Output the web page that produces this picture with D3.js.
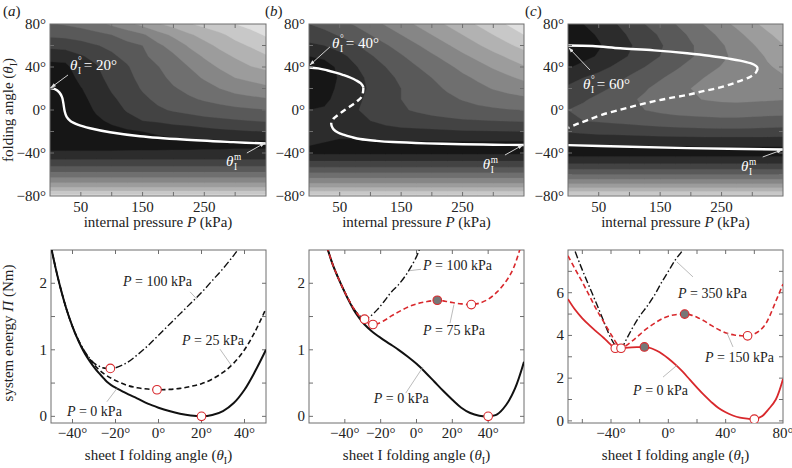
<!DOCTYPE html>
<html><head><meta charset="utf-8">
<script src="https://cdn.jsdelivr.net/npm/d3@7"></script>
<style>body{margin:0;background:#fff}svg{display:block}svg text{font-family:"Liberation Serif","Times New Roman",Times,serif}</style>
</head><body><svg id="chart" width="792" height="468" font-family="Liberation Serif, Times New Roman, serif"></svg>
<script>
// ---------------- DATA ----------------
const gridPressure = [0,25,50,75,100,125,150,175,200,225,250,275,300,325,350];
const gridAngle = [80,70,60,50,40,30,20,10,0,-10,-20,-30,-40,-50,-60,-70,-80];
const fieldA = [
 [3.9,4.1,4.3,4.6,5.2,5.7,6.3,6.9,7.4,7.9,8.3,8.7,9.0,9.3,9.6],
 [3.2,3.3,3.5,3.75,4.0,4.45,4.85,5.6,6.2,6.85,7.35,7.8,8.3,8.7,9.1],
 [2.3,2.4,2.6,2.95,3.2,3.7,4.0,4.8,5.4,6.1,6.7,7.2,7.7,8.1,8.5],
 [1.3,1.4,1.9,2.3,2.85,3.25,3.8,4.35,4.85,5.55,6.1,6.65,7.1,7.5,7.9],
 [0.7,0.75,1.6,1.9,2.6,2.9,3.55,3.95,4.55,5.0,5.6,6.1,6.55,6.95,7.2],
 [0.5,0.55,1.25,1.7,2.35,2.7,3.35,3.7,4.25,4.65,5.1,5.55,6.0,6.25,6.5],
 [0.35,0.4,0.95,1.5,2.1,2.5,3.1,3.45,3.9,4.25,4.6,5.0,5.35,5.55,5.75],
 [0.3,0.35,0.75,1.3,1.85,2.3,2.8,3.2,3.5,3.85,4.1,4.35,4.6,4.75,4.9],
 [0.3,0.3,0.6,1.1,1.5,2.1,2.4,2.85,3.1,3.3,3.45,3.6,3.75,3.85,3.95],
 [0.3,0.3,0.5,0.85,1.15,1.6,2.0,2.15,2.35,2.5,2.7,2.8,2.9,3.0,3.1],
 [0.4,0.4,0.5,0.6,0.75,0.85,1.0,1.15,1.35,1.45,1.6,1.75,1.85,1.95,2.0],
 [0.6,0.6,0.6,0.6,0.6,0.65,0.7,0.7,0.75,0.75,0.8,0.8,0.85,0.85,0.85],
 [1.1,1.1,1.1,1.1,1.1,1.1,1.1,1.1,1.1,1.1,1.1,1.1,1.1,1.1,1.1],
 [2.6,2.6,2.6,2.6,2.6,2.6,2.6,2.6,2.6,2.6,2.6,2.6,2.6,2.6,2.6],
 [4.4,4.4,4.4,4.4,4.4,4.4,4.4,4.4,4.4,4.4,4.4,4.4,4.4,4.4,4.4],
 [6.5,6.5,6.5,6.5,6.5,6.5,6.5,6.5,6.5,6.5,6.5,6.5,6.5,6.5,6.5],
 [9.3,9.3,9.3,9.3,9.3,9.3,9.3,9.3,9.3,9.3,9.3,9.3,9.3,9.3,9.3]
];
const fieldB = [
 [3.0,3.3,3.7,4.1,4.6,5.1,5.6,6.1,6.6,7.1,7.6,8.1,8.6,9.1,9.5],
 [2.5,2.7,3.1,3.5,4.0,4.5,5.0,5.5,6.0,6.5,7.0,7.5,8.0,8.5,9.0],
 [1.8,2.0,2.4,2.9,3.4,3.9,4.4,4.9,5.4,5.9,6.4,6.9,7.4,7.85,8.3],
 [1.0,1.2,1.7,2.3,2.9,3.4,3.9,4.4,4.85,5.3,5.8,6.25,6.7,7.15,7.6],
 [0.3,0.6,1.2,1.9,2.5,3.0,3.5,3.95,4.4,4.8,5.25,5.65,6.1,6.5,6.9],
 [0.2,0.5,1.1,1.7,2.2,2.7,3.2,3.6,4.0,4.4,4.8,5.15,5.5,5.85,6.2],
 [0.3,0.6,1.2,1.7,2.1,2.6,3.0,3.4,3.75,4.1,4.45,4.75,5.05,5.3,5.5],
 [0.6,0.8,1.3,1.8,2.2,2.6,3.0,3.3,3.55,3.8,4.05,4.3,4.5,4.65,4.8],
 [1.0,1.1,1.4,1.9,2.3,2.6,2.9,3.1,3.3,3.45,3.6,3.75,3.85,3.95,4.0],
 [1.3,1.3,1.4,1.7,2.0,2.3,2.5,2.6,2.7,2.8,2.9,2.95,3.0,3.05,3.1],
 [1.4,1.3,1.2,1.3,1.5,1.6,1.7,1.75,1.8,1.85,1.9,1.92,1.95,1.98,2.0],
 [1.1,1.0,0.9,0.85,0.85,0.9,0.9,0.9,0.9,0.9,0.9,0.9,0.9,0.9,0.9],
 [0.8,0.8,0.8,0.8,0.8,0.8,0.8,0.8,0.8,0.8,0.8,0.8,0.8,0.8,0.8],
 [2.4,2.4,2.4,2.4,2.4,2.4,2.4,2.4,2.4,2.4,2.4,2.4,2.4,2.4,2.4],
 [4.3,4.3,4.3,4.3,4.3,4.3,4.3,4.3,4.3,4.3,4.3,4.3,4.3,4.3,4.3],
 [6.4,6.4,6.4,6.4,6.4,6.4,6.4,6.4,6.4,6.4,6.4,6.4,6.4,6.4,6.4],
 [9.3,9.3,9.3,9.3,9.3,9.3,9.3,9.3,9.3,9.3,9.3,9.3,9.3,9.3,9.3]
];
const fieldC = [
 [0.7,1.0,1.4,1.9,2.4,3.0,3.5,4.0,4.6,5.1,5.7,6.2,6.8,7.3,7.8],
 [0.3,0.7,1.1,1.6,2.1,2.6,3.1,3.6,4.15,4.7,5.2,5.75,6.3,6.85,7.35],
 [0.1,0.5,0.9,1.4,1.9,2.4,2.9,3.4,3.9,4.4,4.9,5.4,5.9,6.45,6.95],
 [0.3,0.7,1.1,1.6,2.05,2.5,3.0,3.45,3.9,4.35,4.8,5.25,5.65,6.1,6.55],
 [0.9,1.3,1.7,2.1,2.6,3.0,3.4,3.85,4.3,4.7,5.05,5.35,5.65,5.9,6.2],
 [1.6,2.0,2.3,2.7,3.1,3.5,3.9,4.3,4.7,5.05,5.35,5.55,5.7,5.75,5.9],
 [2.2,2.5,2.8,3.1,3.5,3.9,4.3,4.65,5.0,5.2,5.4,5.5,5.55,5.5,5.5],
 [2.7,2.9,3.2,3.5,3.85,4.15,4.45,4.7,4.9,5.05,5.15,5.2,5.15,5.1,5.05],
 [3.0,3.2,3.4,3.6,3.8,4.0,4.2,4.35,4.45,4.5,4.55,4.55,4.5,4.45,4.4],
 [2.9,3.0,3.1,3.2,3.3,3.4,3.5,3.6,3.65,3.7,3.75,3.75,3.7,3.65,3.6],
 [2.1,2.2,2.3,2.35,2.4,2.5,2.55,2.6,2.65,2.7,2.7,2.7,2.7,2.65,2.6],
 [1.1,1.15,1.2,1.2,1.25,1.25,1.3,1.3,1.3,1.35,1.35,1.35,1.35,1.35,1.35],
 [0.5,0.5,0.5,0.5,0.5,0.5,0.5,0.5,0.5,0.5,0.5,0.5,0.5,0.5,0.5],
 [2.0,2.0,2.0,2.0,2.0,2.0,2.0,2.0,2.0,2.0,2.0,2.0,2.0,2.0,2.0],
 [4.0,4.0,4.0,4.0,4.0,4.0,4.0,4.0,4.0,4.0,4.0,4.0,4.0,4.0,4.0],
 [6.3,6.3,6.3,6.3,6.3,6.3,6.3,6.3,6.3,6.3,6.3,6.3,6.3,6.3,6.3],
 [9.2,9.2,9.2,9.2,9.2,9.2,9.2,9.2,9.2,9.2,9.2,9.2,9.2,9.2,9.2]
];
const contourLevels = [1,2,3,4,5,6,7,8,9,10];

// equilibrium paths [P (kPa), theta (deg)]
const pathA = [[0,20.4],[8.1,19.4],[15.1,16.4],[19.5,12.0],[21.6,6.5],[23.8,-1.2],[27,-6.5],[33.5,-10.5],[46,-13.9],[64.9,-17],[97.3,-20.7],[146,-24.4],[216,-27.5],[297,-29.9],[350,-31.2]];
const pathB1 = [[0,39.5],[15,38.7],[29,37],[45,34.5],[56,32.5],[68,30],[77,27.5],[84,25],[87,23],[88.5,21]];
const pathB2 = [[88.5,21],[88,17],[86,12.6],[78,8],[67,3.4],[57,-0.5],[48,-4.3],[40,-8],[36,-12]];
const pathB3 = [[36,-12],[37,-15],[40,-18],[47,-21],[56,-23],[70,-25.3],[83,-27],[110,-28.7],[137,-29.8],[191,-31],[250,-31.8],[300,-32.3],[350,-32.6]];
const pathC1 = [[0,60],[40,59.5],[85,57.4],[140,55.5],[194,52.8],[230,50.5],[259,48],[280,46],[297,43.5],[306,41],[309,39]];
const pathC2 = [[309,39],[306,35],[297,31],[275,26],[248,21],[220,17.5],[194,14],[165,11],[139,8],[110,4],[85,0.3],[55,-4.5],[31,-9.6],[15,-13],[0,-16.7]];
const pathC3 = [[0,-32.7],[85,-34],[194,-35.5],[350,-36.7]];

// energy curves [theta (deg), energy (Nm)]
const energyA0 = [[-50,2.55],[-48,2.25],[-46,1.98],[-44,1.74],[-42,1.53],[-40,1.35],[-38,1.19],[-36,1.05],[-34,0.93],[-32,0.83],[-30,0.74],[-28,0.66],[-26,0.59],[-24,0.52],[-22,0.47],[-20,0.43],[-17,0.38],[-14,0.33],[-10,0.27],[-5,0.19],[0,0.13],[5,0.08],[10,0.04],[15,0.012],[20,0],[25,0.02],[30,0.08],[35,0.2],[40,0.4],[45,0.68],[50,1.0]];
const energyA25 = [[-50,2.55],[-48,2.25],[-46,1.98],[-44,1.74],[-42,1.53],[-40,1.35],[-38,1.19],[-36,1.06],[-34,0.95],[-32,0.86],[-30,0.78],[-27,0.68],[-24,0.61],[-20,0.54],[-15,0.47],[-10,0.43],[-5,0.41],[0,0.40],[5,0.405],[10,0.42],[15,0.45],[20,0.49],[25,0.56],[30,0.66],[35,0.8],[40,1.0],[45,1.28],[50,1.62]];
const energyA100 = [[-50,2.55],[-48,2.25],[-46,1.98],[-44,1.74],[-42,1.53],[-40,1.35],[-38,1.2],[-36,1.07],[-34,0.96],[-32,0.87],[-30,0.8],[-28,0.76],[-26,0.73],[-24,0.72],[-22,0.72],[-20,0.73],[-15,0.8],[-10,0.92],[-5,1.06],[0,1.22],[5,1.38],[10,1.54],[15,1.7],[20,1.86],[25,2.04],[30,2.22],[35,2.42],[38,2.55]];
const energyB0 = [[-50,2.55],[-47,2.3],[-44,2.1],[-41,1.92],[-38,1.75],[-35,1.6],[-32,1.48],[-29,1.38],[-25,1.28],[-20,1.18],[-15,1.09],[-10,1.0],[-5,0.9],[0,0.79],[5,0.66],[10,0.52],[15,0.38],[20,0.25],[25,0.13],[30,0.05],[35,0.01],[40,0],[45,0.03],[50,0.17],[55,0.42],[60,0.82]];
const energyB75 = [[-50,2.55],[-47,2.3],[-44,2.1],[-41,1.92],[-38,1.76],[-35,1.62],[-32,1.51],[-29,1.43],[-26.5,1.39],[-24.3,1.38],[-22,1.39],[-18,1.44],[-14,1.51],[-10,1.57],[-5,1.64],[0,1.69],[5,1.72],[11.6,1.745],[16,1.73],[20,1.71],[25,1.69],[30.6,1.68],[35,1.7],[40,1.76],[45,1.87],[50,2.03],[54,2.22],[57.6,2.5],[59,2.62]];
const energyB100 = [[-50,2.55],[-47,2.3],[-44,2.1],[-41,1.92],[-38,1.76],[-35,1.62],[-32,1.52],[-29,1.46],[-26,1.5],[-22,1.6],[-18,1.73],[-14,1.87],[-10,1.98],[-6,2.12],[-3,2.25],[0,2.4],[1.5,2.5],[2.5,2.57]];
const energyC0 = [[-70,5.7],[-65,5.2],[-60,4.8],[-55,4.47],[-50,4.17],[-45,3.88],[-41,3.62],[-37,3.4],[-33,3.4],[-28,3.43],[-22,3.45],[-16.7,3.46],[-12,3.4],[-8,3.28],[-4,3.12],[0,2.92],[5,2.63],[10,2.3],[15,1.93],[20,1.56],[25,1.2],[30,0.88],[35,0.6],[40,0.4],[45,0.25],[50,0.15],[55,0.1],[60,0.08],[65,0.2],[70,0.55],[75,1.0],[80,1.96]];
const energyC150 = [[-70,7.73],[-65,7.1],[-60,6.5],[-55,5.85],[-50,5.2],[-45,4.62],[-40,4.05],[-36,3.62],[-33,3.4],[-30,3.5],[-26,3.7],[-22,3.92],[-16,4.27],[-10,4.55],[-5,4.76],[0,4.9],[5,4.97],[11.4,5.0],[16,4.95],[20,4.85],[25,4.68],[30,4.47],[36,4.24],[41,4.1],[46,4.02],[50,3.99],[55.3,3.98],[60,4.07],[64,4.24],[68,4.55],[71,4.95],[75,5.6],[80,6.4]];
const energyC350 = [[-65,7.93],[-62,7.4],[-59,6.9],[-56,6.42],[-53,5.95],[-50,5.47],[-47,4.98],[-44,4.48],[-41,4.0],[-38,3.63],[-35.5,3.42],[-34,3.4],[-32,3.48],[-29,3.85],[-25,4.35],[-20,4.9],[-15,5.35],[-10,5.85],[-5,6.45],[0,7.0],[5,7.55],[9.5,7.95],[10.5,8.1]];

// equilibrium markers [theta, energy]
const stableA = [[20,0],[-0.7,0.40],[-22.4,0.72]];
const unstableA = [];
const stableB = [[40,0],[-29,1.46],[-24.3,1.38],[30.6,1.68]];
const unstableB = [[11.6,1.745]];
const stableC = [[60,0.08],[55.3,3.98],[-37,3.4],[-33,3.4]];
const unstableC = [[-16.7,3.46],[11.4,5.0]];

// tick values
const pressureTicks = [50,100,150,200,250,300];
const pressureLabels = [50,150,250];
const angleTicksTop = [-60,-40,-20,0,20,40,60];
const angleLabelsTop = [-80,-40,0,40,80];

// ---------------- DRAWING ----------------
const FONT = "Liberation Serif, Times New Roman, serif";
const svg = d3.select("#chart");
const defs = svg.append("defs");
const TOP = [24,196], BOT = [250,423];
const COLX = [[50,266],[309,524],[568,783]];
const FRAME = "#6e6e6e";
const RED = "#d8282c";
const gray = k => { const g = Math.round(22 + 22.3*k); return `rgb(${g},${g},${g})`; };
const degFmt = d => (d<0?"\u2212":"") + Math.abs(d) + "\u00b0";
const txt = () => svg.append("text").attr("font-family",FONT);

defs.append("marker").attr("id","arrW").attr("viewBox","0 0 10 10").attr("refX",9).attr("refY",5)
  .attr("markerWidth",6).attr("markerHeight",6).attr("orient","auto")
  .append("path").attr("d","M0,1.5L10,5L0,8.5z").attr("fill","#e4e4e4");

function frameAndTicks(x0,x1,y0,y1,xs,ys,xt,yt){
  const g = svg.append("g").attr("stroke",FRAME).attr("stroke-width",1).attr("fill","none");
  xt.forEach(v=>{const x=xs(v); g.append("line").attr("x1",x).attr("x2",x).attr("y1",y1).attr("y2",y1-4);
    g.append("line").attr("x1",x).attr("x2",x).attr("y1",y0).attr("y2",y0+4);});
  yt.forEach(v=>{const y=ys(v); g.append("line").attr("x1",x0).attr("x2",x0+4).attr("y1",y).attr("y2",y);
    g.append("line").attr("x1",x1).attr("x2",x1-4).attr("y1",y).attr("y2",y);});
  g.append("rect").attr("x",x0).attr("y",y0).attr("width",x1-x0).attr("height",y1-y0);
}
function tickLabels(xs,ys,x0,y1,xl,yl,xfmt,yfmt,xBase){
  xl.forEach(v=>txt().attr("x",xs(v)).attr("y",xBase).attr("text-anchor","middle")
    .attr("font-size",15).attr("fill","#222").text(xfmt(v)));
  yl.forEach(v=>txt().attr("x",x0-4).attr("y",ys(v)+5).attr("text-anchor","end")
    .attr("font-size",15).attr("fill","#222").text(yfmt(v)));
}
function thetaLabel(x,y,sup,tail,size,fill){
  txt().attr("x",x).attr("y",y).attr("font-size",size).attr("fill",fill)
    .attr("font-style","italic").text("\u03b8");
  const w = size*0.5;
  txt().attr("x",x+w+0.5).attr("y",y-size*0.42).attr("font-size",size*0.62).attr("fill",fill).text(sup);
  txt().attr("x",x+w+0.5).attr("y",y+size*0.28).attr("font-size",size*0.62).attr("fill",fill).text("I");
  if(tail) txt().attr("x",x+w+size*0.42).attr("y",y).attr("font-size",size).attr("fill",fill).text(tail);
}

const topPanels = [
  {field: fieldA, segs:[{d:pathA,dash:false}], start:"= 20\u00b0",
   lab:[32.4,37.2], arr:[[29.2,32.6],[1.6,20.9]], mlab:[285,-52], marr:[[319,-40],[348,-30.7]]},
  {field: fieldB, segs:[{d:pathB1,dash:false},{d:pathB2,dash:true},{d:pathB3,dash:false}], start:"= 40\u00b0",
   lab:[37.4,57.7], arr:[[34,58.6],[1.6,41.9]], mlab:[283,-54.9], marr:[[319,-41.9],[348,-32.6]]},
  {field: fieldC, segs:[{d:pathC1,dash:false},{d:pathC2,dash:true},{d:pathC3,dash:false}], start:"= 60\u00b0",
   lab:[24.4,19.5], arr:[[35.8,37.2],[1.6,57.7]], mlab:[281.6,-56.7], marr:[[317,-43.7],[348,-37.2]]}
];

topPanels.forEach((p,i)=>{
  const [x0,x1]=COLX[i];
  const xs=d3.scaleLinear().domain([0,350]).range([x0,x1]);
  const ys=d3.scaleLinear().domain([-80,80]).range([TOP[1],TOP[0]]);
  const cid="clipT"+i;
  defs.append("clipPath").attr("id",cid).append("rect").attr("x",x0).attr("y",TOP[0]).attr("width",x1-x0).attr("height",TOP[1]-TOP[0]);
  const g=svg.append("g").attr("clip-path",`url(#${cid})`);
  const n=gridPressure.length, m=gridAngle.length;
  const dP=gridPressure[1]-gridPressure[0], dA=gridAngle[0]-gridAngle[1];
  const tr=d3.geoTransform({point:function(cx,cy){
    this.stream.point(xs(gridPressure[0]+(cx-0.5)*dP), ys(gridAngle[0]-(cy-0.5)*dA));}});
  const gp=d3.geoPath(tr);
  g.append("rect").attr("x",x0).attr("y",TOP[0]).attr("width",x1-x0).attr("height",TOP[1]-TOP[0]).attr("fill",gray(0));
  const cs=d3.contours().size([n,m]).thresholds(contourLevels)(p.field.flat());
  g.selectAll("path.band").data(cs).join("path").attr("class","band").attr("d",gp)
    .attr("fill",d=>gray(d.value)).attr("stroke",d=>gray(d.value)).attr("stroke-width",0.3);
  const line=d3.line().x(d=>xs(d[0])).y(d=>ys(d[1])).curve(d3.curveCatmullRom);
  p.segs.forEach(s=>g.append("path").attr("d",line(s.d)).attr("fill","none").attr("stroke","#fff")
    .attr("stroke-width",2.4).attr("stroke-dasharray",s.dash?"6,4":null));
  frameAndTicks(x0,x1,TOP[0],TOP[1],xs,ys,pressureTicks,angleTicksTop);
  tickLabels(xs,ys,x0,TOP[1],pressureLabels,angleLabelsTop,v=>v,degFmt,212);
  txt().attr("x",(x0+x1)/2).attr("y",227).attr("text-anchor","middle").attr("font-size",15).attr("fill","#222")
    .call(t=>{t.append("tspan").text("internal pressure ");t.append("tspan").attr("font-style","italic").text("P");t.append("tspan").text(" (kPa)");});
  svg.append("line").attr("x1",xs(p.arr[0][0])).attr("y1",ys(p.arr[0][1])).attr("x2",xs(p.arr[1][0])).attr("y2",ys(p.arr[1][1]))
    .attr("stroke","#e4e4e4").attr("stroke-width",0.9).attr("marker-end","url(#arrW)");
  thetaLabel(xs(p.lab[0]),ys(p.lab[1]),"\u00b0",p.start,15,"#fff");
  svg.append("line").attr("x1",xs(p.marr[0][0])).attr("y1",ys(p.marr[0][1])).attr("x2",xs(p.marr[1][0])).attr("y2",ys(p.marr[1][1]))
    .attr("stroke","#e4e4e4").attr("stroke-width",0.9).attr("marker-end","url(#arrW)");
  thetaLabel(xs(p.mlab[0]),ys(p.mlab[1]),"m",null,15,"#fff");
});

const bottomPanels = [
  {xd:[-50,50], yd:[-0.1,2.5], xt:[-40,-20,0,20,40], xl:[-40,-20,0,20,40], yt:[0,0.5,1,1.5,2], yl:[0,1,2],
   series:[{d:energyA0,c:"#111",dash:null,w:2},{d:energyA25,c:"#111",dash:"5,3",w:1.6},{d:energyA100,c:"#111",dash:"7,2.5,1.5,2.5",w:1.4}],
   stable:stableA, unstable:unstableA,
   labels:[{t:" = 100 kPa",at:[-16.5,1.96],lead:[[14.7,1.87],[17.9,1.76]]},
           {t:" = 25 kPa",at:[10.9,1.07],lead:[[28.6,1.01],[34,0.76]]},
           {t:" = 0 kPa",at:[-42.6,0.0],lead:[[-24,0.22],[-19.3,0.42]]}]},
  {xd:[-60,60], yd:[-0.1,2.5], xt:[-40,-20,0,20,40], xl:[-40,-20,0,20,40], yt:[0,0.5,1,1.5,2], yl:[0,1,2],
   series:[{d:energyB0,c:"#111",dash:null,w:2},{d:energyB100,c:"#111",dash:"7,2.5,1.5,2.5",w:1.4},{d:energyB75,c:RED,dash:"5,3",w:1.6}],
   stable:stableB, unstable:unstableB,
   labels:[{t:" = 100 kPa",at:[3.6,2.2],lead:[[2.5,2.21],[-3.6,2.19]]},
           {t:" = 75 kPa",at:[3.6,1.22],lead:[[18.7,1.40],[20.9,1.68]]},
           {t:" = 0 kPa",at:[-23.9,0.2],lead:[[-6,0.35],[3.6,0.74]]}]},
  {xd:[-70,80], yd:[-0.1,8], xt:[-60,-40,-20,0,20,40,60], xl:[-40,0,40,80], yt:[0,1,2,3,4,5,6,7], yl:[0,2,4,6],
   series:[{d:energyC350,c:"#111",dash:"7,2.5,1.5,2.5",w:1.4},{d:energyC150,c:RED,dash:"5,3",w:1.6},{d:energyC0,c:RED,dash:null,w:1.8}],
   stable:stableC, unstable:unstableC,
   labels:[{t:" = 350 kPa",at:[6.7,5.75],lead:[[17.2,6.74],[6,7.44]]},
           {t:" = 150 kPa",at:[25.6,2.76],lead:[[45.1,3.46],[40.9,4.12]]},
           {t:" = 0 kPa",at:[-24.6,1.21],lead:[[-3.7,2.05],[6,2.6]]}]}
];

bottomPanels.forEach((p,i)=>{
  const [x0,x1]=COLX[i]; const xa = i===0?51:x0;
  const xs=d3.scaleLinear().domain(p.xd).range([xa,x1]);
  const ys=d3.scaleLinear().domain(p.yd).range([BOT[1],BOT[0]]);
  const cid="clipB"+i;
  defs.append("clipPath").attr("id",cid).append("rect").attr("x",xa).attr("y",BOT[0]).attr("width",x1-xa).attr("height",BOT[1]-BOT[0]);
  frameAndTicks(xa,x1,BOT[0],BOT[1],xs,ys,p.xt,p.yt);
  const g=svg.append("g").attr("clip-path",`url(#${cid})`);
  const line=d3.line().x(d=>xs(d[0])).y(d=>ys(d[1])).curve(d3.curveCatmullRom);
  p.labels.forEach(l=>{
    svg.append("line").attr("x1",xs(l.lead[0][0])).attr("y1",ys(l.lead[0][1])).attr("x2",xs(l.lead[1][0])).attr("y2",ys(l.lead[1][1]))
      .attr("stroke","#aaa").attr("stroke-width",0.8);
  });
  p.series.forEach(s=>g.append("path").attr("d",line(s.d)).attr("fill","none").attr("stroke",s.c)
    .attr("stroke-width",s.w).attr("stroke-dasharray",s.dash));
  g.selectAll("circle.s").data(p.stable).join("circle").attr("class","s").attr("cx",d=>xs(d[0])).attr("cy",d=>ys(d[1]))
    .attr("r",4.3).attr("fill","#fff").attr("stroke",RED).attr("stroke-width",1.1);
  g.selectAll("circle.u").data(p.unstable).join("circle").attr("class","u").attr("cx",d=>xs(d[0])).attr("cy",d=>ys(d[1]))
    .attr("r",4.3).attr("fill","#777").attr("stroke",RED).attr("stroke-width",1.1);
  p.labels.forEach(l=>{
    const t=txt().attr("x",xs(l.at[0])).attr("y",ys(l.at[1])).attr("font-size",14).attr("fill","#222");
    t.append("tspan").attr("font-style","italic").text("P"); t.append("tspan").text(l.t);
  });
  tickLabels(xs,ys,xa,BOT[1],p.xl,p.yl,degFmt,v=>v,438);
  txt().attr("x",(xa+x1)/2).attr("y",460).attr("text-anchor","middle").attr("font-size",15).attr("fill","#222")
    .call(t=>{t.append("tspan").text("sheet I folding angle (");t.append("tspan").attr("font-style","italic").text("\u03b8");
      t.append("tspan").attr("font-size",10).attr("dy",4).text("I");t.append("tspan").attr("dy",-4).text(")");});
});

txt().attr("transform","translate(13,110) rotate(-90)").attr("text-anchor","middle").attr("font-size",15).attr("fill","#222")
  .call(t=>{t.append("tspan").text("folding angle (");t.append("tspan").attr("font-style","italic").text("\u03b8");
    t.append("tspan").attr("font-size",10).attr("dy",4).text("I");t.append("tspan").attr("dy",-4).text(")");});
txt().attr("transform","translate(13,333) rotate(-90)").attr("text-anchor","middle").attr("font-size",15).attr("fill","#222")
  .call(t=>{t.append("tspan").text("system energy ");t.append("tspan").attr("font-style","italic").text("\u03a0");t.append("tspan").text(" (Nm)");});

[["a",3],["b",265],["c",525]].forEach(([l,x])=>{
  txt().attr("x",x).attr("y",16).attr("font-size",15).attr("fill","#222")
    .call(t=>{t.append("tspan").text("(");t.append("tspan").attr("font-style","italic").text(l);t.append("tspan").text(")");});
});
</script></body></html>
